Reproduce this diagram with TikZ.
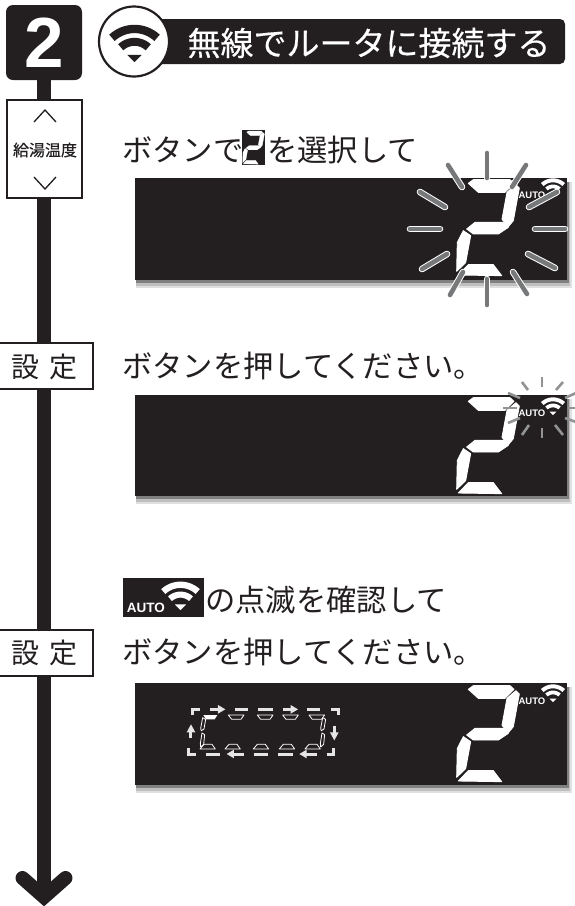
\documentclass[tikz,border=0pt]{standalone}
\usepackage{fontspec}
\setmainfont{Noto Sans CJK JP}
\newfontfamily\titlefont{Noto Sans CJK JP}[FakeBold=0.35]
\newfontfamily\smallfont{Noto Sans CJK JP}[FakeBold=0.2]
\newfontfamily\latinbold{Liberation Sans}[BoldFont={Liberation Sans Bold}]
\definecolor{ink}{HTML}{231F20}
\definecolor{ray}{HTML}{77787A}
\tikzset{
  txt/.style={inner sep=0pt,anchor=west,font=\fontsize{30.3}{31}\selectfont,text=ink},
  btnbox/.style={draw=ink,line width=1.4pt,fill=white},
  seg/.style={fill=white,draw=white,line width=.9pt,line join=round},
  smallseg/.style={fill=white,draw=white,line width=.3pt,line join=round},
  rayline/.style={draw=white,line width=6.6pt,line cap=round},
  rayin/.style={draw=ray,line width=4.6pt,line cap=round},
  hair/.style={draw=white,line width=.8pt,line join=round,fill=ink},
  dashl/.style={draw=white!90!black,line width=3pt},
  chev/.style={draw=ink,line width=1.3pt},
}
\newcommand{\segdigit}[4][seg]{%
\begin{scope}[shift={(#2,#3)},scale=#4]
\fill[#1] (85,58)--(100,47)--(210,47)--(222,58)--(195,85)--(115,85)--cycle;
\fill[#1] (228,62)--(238,72)--(220,170)--(205,188)--(186,166)--(201,85)--cycle;
\fill[#1] (80,195)--(105,175)--(190,175)--(205,190)--(175,210)--(100,210)--cycle;
\fill[#1] (70,200)--(92,215)--(77,296)--(50,322)--(52,235)--cycle;
\fill[#1] (55,333)--(85,302)--(160,302)--(185,335)--cycle;
\end{scope}}
\newcommand{\wifi}[4]{%
\begin{scope}[shift={(#1,#2)}]
\draw[#4,line width=#3*.22pt] plot[domain=47:133,samples=19] ({#3*.87*cos(\x)},{-#3*.87*sin(\x)});
\draw[#4,line width=#3*.21pt] plot[domain=47:133,samples=15] ({#3*.53*cos(\x)},{-#3*.53*sin(\x)});
\fill[#4] (0,0)--(#3*.19,-#3*.19)--(-#3*.19,-#3*.19)--cycle;
\end{scope}}
\newcommand{\panelbg}[2]{%
\fill[black!12] (136,#1+4)rectangle(572,#2+8);
\fill[black!25] (136,#1+4)rectangle(570,#2+6);
\fill[black!50] (136,#1+4)rectangle(569,#2+3);
\fill[ink] (135,#1) rectangle (567,#2);}
\newcommand{\autolabel}[4]{\node[inner sep=0pt,text=white,font=\latinbold\bfseries\fontsize{#3}{#3}\selectfont] (#4) at (#1,#2) {AUTO};}
\begin{document}
\begin{tikzpicture}[x=1pt,y=-1pt]
\useasboundingbox (0,0) rectangle (574,906);
\fill[white] (0,0) rectangle (574,906);
% main stem and arrow
\coordinate (stemtop) at (44,60);
\coordinate (stemend) at (44,897);
\coordinate (armL) at (22.5,878);
\coordinate (armR) at (65.5,878);
\begin{scope}
\clip (0,0) rectangle (574,906);
\draw[ink,line width=14pt] (stemtop) -- (stemend);
\draw[ink,line width=14pt,line cap=round,line join=miter] (armL) -- (stemend) -- (armR);
\end{scope}
% badge
\node[fill=ink,rounded corners=7pt,minimum width=76pt,minimum height=75pt,inner sep=0pt] (badge) at (44,42.5) {};
\node[text=white,inner sep=0pt,font=\latinbold\bfseries\fontsize{71}{71}\selectfont] (two) at (44,43) {2};
% title bar
\fill[ink,rounded corners=5pt] (140,19) rectangle (565,64);
\node[circle,draw=ink,line width=2.2pt,fill=white,minimum size=70pt,inner sep=0pt] (wificircle) at (134,41.5) {};
\wifi{134.5}{62}{38}{ink}
\node[inner sep=0pt,anchor=center,text=white,font=\titlefont\fontsize{33}{34}\selectfont] (title) at (369,43) {無線でルータに接続する};
% temperature button
\node[btnbox,minimum width=75pt,minimum height=98pt,inner sep=0pt] (tempbtn) at (44.5,149) {};
\node[inner sep=0pt,text=ink,font=\smallfont\fontsize{16}{17}\selectfont] (templabel) at (45,150) {給湯温度};
\draw[chev] (34,122)--(45,110)--(56,122);
\draw[chev] (34,177)--(45,189)--(56,177);
% set buttons
\node[btnbox,minimum width=94pt,minimum height=46pt,inner sep=0pt] (setA) at (46,366) {};
\node[btnbox,minimum width=94pt,minimum height=46pt,inner sep=0pt] (setB) at (46,653) {};
\node[inner sep=0pt,text=ink,font=\fontsize{28}{29}\selectfont] (setAt) at (45,367) {設\hspace{10pt}定};
\node[inner sep=0pt,text=ink,font=\fontsize{28}{29}\selectfont] (setBt) at (45,653) {設\hspace{10pt}定};
% step 1
\node[txt] (l1a) at (122,150) {ボタンで};
\fill[ink] (242,130) rectangle (265,165);
\segdigit[smallseg]{237}{125.6}{.115}
\node[txt] (l1b) at (267,150) {を選択して};
\panelbg{178}{280}
\segdigit{440}{164}{.3333}
\autolabel{532}{195}{9.5}{auto1}
\wifi{553}{196}{18}{white}
\foreach \a/\b/\c/\d in {487/153/487/178, 448/165/462/187, 526/165/512/187, 420/192/445/207, 557/192/529/207, 410/229/440/229, 535/229/565/229, 422/269/447/254, 528/254/555/268, 450/295/463/272, 487/279/487/305, 513/272/527/294}{
  \draw[rayline] (\a,\b)--(\c,\d);
  \draw[rayin] (\a,\b)--(\c,\d);
}
% step 2
\node[txt] (l2) at (122,366) {ボタンを押してください。};
\panelbg{395}{496}
\segdigit{440}{382}{.3333}
\autolabel{532}{413}{9.5}{auto2}
\wifi{553}{415}{18}{white}
\foreach \a/\b/\c/\d in {522/382/528/390, 542/377/542/387, 556/390/563/382, 565/398/576/393, 568/408/576/408, 565/418/576/422, 555/425/563/435, 542/428/542/438, 522/435/529/425, 508/423/520/418, 503/408/517/408, 508/393/520/398}{
  \draw[ray!80!white,line width=2.6pt] (\a,\b)--(\c,\d);
}
% step 3
\node[fill=ink,minimum width=81pt,minimum height=39pt,inner sep=0pt] (autobox) at (163.5,597.5) {};
\autolabel{146}{608}{13.5}{auto3}
\wifi{180.5}{610}{29}{white}
\node[txt] (l3) at (205,600) {の点滅を確認して};
\node[txt] (l4) at (122,652) {ボタンを押してください。};
\panelbg{683}{785}
\segdigit{440}{670}{.3333}
\autolabel{532}{701}{9.5}{auto4}
\wifi{553}{702}{18}{white}
% marquee
\begin{scope}[shift={(170,685)},scale=.3333]
\draw[dashl] (68,90)--(68,73)--(90,73) (195,73)--(235,73) (265,73)--(308,73) (410,73)--(450,73) (483,73)--(505,73)--(505,90)
  (57,190)--(57,207)--(78,207) (108,207)--(150,207) (252,207)--(295,207) (325,207)--(368,207) (470,207)--(490,207)--(490,190);
\foreach \x in {120,338}{\draw[dashl] (\x,73)--(\x+32,73); \fill[white!90!black] (\x+24,60)--(\x+46,73)--(\x+24,86)--cycle;}
\foreach \x in {222,440}{\draw[dashl] (\x,207)--(\x-32,207); \fill[white!90!black] (\x-30,194)--(\x-52,207)--(\x-30,220)--cycle;}
\draw[dashl] (493,122)--(493,150); \fill[white!90!black] (480,142)--(493,166)--(506,142)--cycle;
\draw[dashl] (63,160)--(63,134); \fill[white!90!black] (50,142)--(63,118)--(76,142)--cycle;
\foreach \x in {175,262,338,417}{\draw[hair] (\x,90)--(\x+47,90)--(\x+38,103)--(\x+10,103)--cycle;}
\fill[white] (100,90)--(142,90)--(134,103)--(108,103)--cycle;
\foreach \x in {90,165,250,328,405}{\draw[hair] (\x,192)--(\x+12,178)--(\x+36,178)--(\x+46,192)--cycle;}
\foreach \x in {92,452}{
 \draw[hair] (\x+6,98)--(\x+15,103)--(\x+10,132)--(\x+2,137)--(\x,130)--cycle;
 \draw[hair] (\x+4,144)--(\x+12,149)--(\x+9,178)--(\x,186)--(\x-1,176)--cycle;
}
\end{scope}
\end{tikzpicture}
\end{document}
